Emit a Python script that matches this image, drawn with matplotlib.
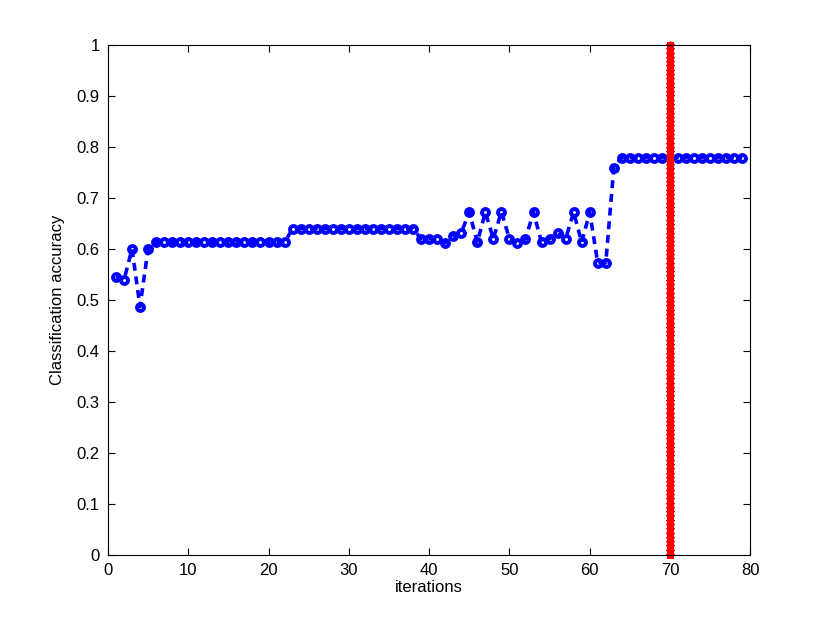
import numpy as np
import matplotlib
matplotlib.use("Agg")
import matplotlib.pyplot as plt

# accuracy per iteration
iterations = np.arange(1, 80)
accuracy = (
    [0.546, 0.539, 0.600, 0.487, 0.600]
    + [0.613] * 17
    + [0.640] * 16
    + [0.620, 0.620, 0.620, 0.612, 0.625, 0.632, 0.672, 0.613, 0.672, 0.620,
       0.673, 0.620, 0.612, 0.620, 0.672, 0.613, 0.620, 0.632, 0.620, 0.672,
       0.613, 0.672, 0.573, 0.573, 0.759]
    + [0.779] * 16
)

# chosen stopping iteration (red line)
stop_iter = 70
stop_y = np.linspace(0, 1, 120)

plt.rcParams['font.family'] = ['Liberation Sans', 'DejaVu Sans']

fig = plt.figure(figsize=(8.3, 6.25), dpi=100)
ax = fig.add_axes([0.13, 0.112, 0.774, 0.816])

# markers first, dashed line on top (as matlab draws it)
ax.plot(iterations, accuracy, 'o', color='blue', markersize=5.0,
        markeredgewidth=2.8, markerfacecolor='white')
ax.plot(iterations, accuracy, '--', color='blue', linewidth=2.6,
        dashes=(2.2, 1.6))
ax.plot([stop_iter] * len(stop_y), stop_y, '-*', color='red', linewidth=5,
        markersize=6, clip_on=False)

ax.set_xlim(0, 80)
ax.set_ylim(0, 1)
ax.set_xticks(np.arange(0, 81, 10))
ax.set_yticks(np.arange(0, 1.01, 0.1))
ax.set_yticklabels(['0', '0.1', '0.2', '0.3', '0.4', '0.5', '0.6', '0.7',
                    '0.8', '0.9', '1'])
ax.tick_params(direction='in', top=True, right=True, labelsize=12, length=5,
               pad=6)
for s in ax.spines.values():
    s.set_linewidth(0.8)

ax.set_xlabel('iterations', fontsize=12, labelpad=1)
ax.set_ylabel('Classification accuracy', fontsize=12, labelpad=8)

fig.savefig('out.png', dpi=100)
